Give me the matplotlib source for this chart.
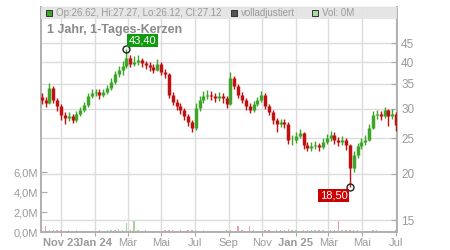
import numpy as np
import matplotlib
matplotlib.use("Agg")
import matplotlib.pyplot as plt
import matplotlib.dates as mdates
from datetime import date, timedelta

plt.rcParams["font.family"] = ["Liberation Sans", "DejaVu Sans"]

# ---- data (weekly candles) ----
start = date(2023, 9, 27)
closes = [31.6, 31.1, 34.1, 31.6, 30.5, 28.8, 28.3, 28.7, 28.0, 29.0, 29.8, 30.7, 32.5, 33.1, 33.3, 32.7,
          33.3, 34.1, 35.4, 37.2, 38.1, 39.1, 41.1, 39.6, 40.1, 40.6, 39.8, 39.3, 38.9, 38.1, 39.6, 37.7,
          37.2, 32.7, 31.3, 30.5, 29.8, 28.7, 27.6, 26.6, 30.1, 31.7, 32.5, 32.7, 32.5, 32.1, 32.5, 32.1,
          30.9, 36.3, 34.5, 32.7, 31.7, 30.5, 29.8, 30.9, 31.7, 32.7, 30.5, 29.4, 28.0, 27.3, 27.6, 27.3,
          24.7, 24.7, 25.3, 25.8, 23.9, 23.5, 23.8, 23.9, 23.6, 24.4, 25.0, 25.5, 24.7, 24.4, 24.7, 23.9,
          20.8, 22.5, 23.8, 24.4, 24.7, 26.6, 28.8, 29.0, 28.7, 29.8, 28.7, 29.0, 27.1]
opens = [32.3] + closes[:-1]
highs = [33.0, 32.3, 35.2, 34.5, 32.0, 30.9, 29.3, 29.4, 29.0, 29.6, 30.4, 31.3, 33.0, 33.8, 34.0, 33.8,
         34.0, 34.8, 36.2, 38.0, 39.2, 40.3, 43.4, 41.8, 41.5, 41.9, 41.2, 40.4, 40.0, 39.6, 40.8, 40.2,
         38.4, 37.5, 33.2, 31.8, 31.0, 30.2, 29.0, 28.0, 31.0, 32.4, 33.4, 33.6, 33.4, 33.0, 33.2, 33.0,
         32.5, 37.6, 36.8, 35.0, 33.2, 32.0, 31.0, 31.4, 32.3, 33.4, 33.0, 30.9, 29.8, 28.4, 28.2, 28.1,
         27.6, 25.4, 25.9, 26.4, 26.0, 24.4, 24.4, 24.5, 24.3, 25.0, 25.6, 26.1, 25.9, 25.2, 25.3, 25.0,
         24.1, 23.0, 24.3, 25.0, 25.5, 27.2, 29.5, 29.8, 29.6, 30.3, 30.0, 29.9, 29.4]
lows = [30.8, 30.3, 30.8, 31.0, 29.6, 28.0, 27.3, 27.8, 27.4, 27.6, 28.6, 29.4, 30.4, 32.0, 32.4, 31.8,
        32.2, 32.8, 33.6, 35.0, 36.5, 37.0, 38.6, 38.8, 39.0, 39.4, 38.9, 38.3, 38.0, 37.4, 37.8, 37.0,
        36.2, 32.0, 30.6, 29.8, 29.0, 28.0, 26.9, 26.0, 26.2, 29.6, 31.0, 31.8, 31.6, 31.2, 31.5, 31.0,
        30.2, 30.6, 34.0, 32.0, 31.0, 29.8, 29.2, 29.4, 30.5, 31.3, 30.0, 28.8, 27.3, 26.0, 26.8, 26.6,
        24.1, 24.0, 24.3, 25.0, 23.4, 23.0, 23.1, 23.3, 23.0, 23.3, 24.1, 24.6, 24.1, 23.8, 23.9, 23.2,
        18.5, 20.3, 22.1, 23.4, 24.0, 24.5, 26.4, 28.2, 28.0, 28.3, 27.0, 28.2, 26.1]
volumes = [0.3, 0.6, 0.25, 0.2, 0.2, 0.2, 0.15, 0.2, 0.15, 0.2, 0.15, 0.15, 0.1, 0.15, 0.1, 0.2,
           0.15, 0.2, 0.2, 0.25, 0.3, 0.2, 0.9, 0.2, 1.2, 0.2, 0.15, 0.2, 0.15, 0.1, 0.15, 0.1,
           0.2, 0.25, 0.2, 0.15, 0.2, 0.15, 0.2, 0.2, 0.2, 0.15, 0.2, 0.15, 0.1, 0.15, 0.1, 0.15,
           0.2, 0.2, 0.15, 0.6, 0.2, 0.15, 0.6, 0.2, 0.15, 0.15, 0.2, 0.2, 0.15, 0.2, 0.2, 0.2,
           0.3, 0.2, 0.2, 0.15, 0.2, 0.2, 0.2, 0.25, 0.2, 0.2, 0.15, 0.25, 0.2, 1.1, 0.2, 0.25,
           0.2, 0.2, 0.25, 0.15, 0.1, 0.15, 0.2, 0.2, 0.15, 0.15, 0.1, 0.15, 0.2]
price_ticks = [15, 20, 25, 30, 35, 40, 45]
vol_ticks = [0, 2, 4, 6]
vol_tick_labels = ["0,0M", "2,0M", "4,0M", "6,0M"]
month_ticks = [date(2023, 11, 1), date(2024, 1, 1), date(2024, 3, 1), date(2024, 5, 1), date(2024, 7, 1),
               date(2024, 9, 1), date(2024, 11, 1), date(2025, 1, 1), date(2025, 3, 1), date(2025, 5, 1),
               date(2025, 7, 1)]
month_labels = ["Nov 23", "Jan 24", "Mär", "Mai", "Jul", "Sep", "Nov", "Jan 25", "Mär", "Mai", "Jul"]
bold_labels = {"Nov 23", "Jan 24", "Jan 25"}
hi_label, lo_label = "43,40", "18,50"
header_ohlc = "Op:26.62, Hi:27.27, Lo:26.12, Cl:27.12"
title = "1 Jahr, 1-Tages-Kerzen"

dates = [start + timedelta(days=7 * i) for i in range(len(closes))]
x = mdates.date2num(dates)

GREEN = "#3fa52a"
RED = "#bf1111"
GRID = "#dcdcdc"
TXT = "#9a9a9a"

fig = plt.figure(figsize=(4.5, 2.5), dpi=100)
L, R, T, B = 41, 397, 7, 232
ax = fig.add_axes([L / 450, 1 - B / 250, (R - L) / 450, (B - T) / 250])
ax2 = ax.twinx()

x0 = mdates.date2num(date(2023, 9, 25)) + 0.7
x1 = mdates.date2num(date(2025, 7, 3)) + 0.7
ax.set_xlim(x0, x1)

# vertical grid
mt = mdates.date2num(month_ticks)
for m in mt:
    ax.axvline(m, color=GRID, lw=1, zorder=0)

# volume
up = [c >= o for o, c in zip(opens, closes)]
vcol = ["#9fd69a" if u else "#f29aa6" for u in up]
ax.bar(x, volumes, width=2.5, color=vcol, zorder=2)
ax.set_ylim(0, 22.5)
ax.set_yticks(vol_ticks)
ax.set_yticklabels(vol_tick_labels)
ax.tick_params(axis="y", direction="in", length=4, color="#aaaaaa", labelcolor=TXT, labelsize=8, pad=2)
ax.set_xticks(mt)
ax.set_xticklabels(month_labels)
for lab in ax.get_xticklabels():
    if lab.get_text() in bold_labels:
        lab.set_fontweight("bold")
ax.tick_params(axis="x", direction="out", length=3, color="#aaaaaa", labelcolor=TXT, labelsize=8, pad=1)

# price
ax2.set_yscale("log")
ax2.set_ylim(13.95, 56.4)
ax2.set_yticks(price_ticks)
ax2.set_yticklabels([str(t) for t in price_ticks])
ax2.yaxis.set_minor_locator(matplotlib.ticker.NullLocator())
ax2.tick_params(axis="y", direction="in", length=4, color="#aaaaaa", labelcolor=TXT, labelsize=8.5, pad=3)
for t in price_ticks:
    ax2.axhline(t, color=GRID, lw=1, zorder=0)

ccol = [GREEN if u else RED for u in up]
ax2.vlines(x, lows, highs, colors=ccol, lw=1, zorder=3)
ax2.vlines(x, opens, closes, colors=ccol, lw=2.5, zorder=3)

# extremes
ihi = int(np.argmax(highs))
ilo = int(np.argmin(lows))
ax2.plot([x[ihi]], [highs[ihi]], marker="o", ms=5, mfc="none", mec="#222222", mew=1, zorder=5)
ax2.plot([x[ilo]], [lows[ilo]], marker="o", ms=5, mfc="none", mec="#222222", mew=1, zorder=5)
ax2.annotate(hi_label, (x[ihi], highs[ihi]), xytext=(11.5, 6.5), textcoords="offset points",
             ha="center", va="center", color="white", fontsize=8,
             bbox=dict(boxstyle="square,pad=0.15", fc="#0f9a0f", ec="none"), zorder=6)
ax2.annotate(lo_label, (x[ilo], lows[ilo]), xytext=(-11.5, -6.3), textcoords="offset points",
             ha="center", va="center", color="white", fontsize=8,
             bbox=dict(boxstyle="square,pad=0.15", fc="#cc0000", ec="none"), zorder=6)

# spines
for s in ["left", "bottom", "right"]:
    for a in (ax, ax2):
        a.spines[s].set_color("#b0b0b0")
        a.spines[s].set_linewidth(1.2)
for a in (ax, ax2):
    a.spines["top"].set_color("#c8c8c8")

# header band
hb = 12 / (B - T)
ax2.add_patch(plt.Rectangle((0, 1 - hb), 1, hb, transform=ax2.transAxes, fc="#e3e3e3", ec="none",
                            alpha=0.9, zorder=7, clip_on=False))
hy = 1 - hb / 2
def sq(xa, col):
    ax2.plot([xa], [hy], marker="s", ms=4.5, mfc=col, mec="#333333", mew=0.7,
             transform=ax2.transAxes, clip_on=False, zorder=8)
sq(8 / 356, GREEN)
ax2.text(15 / 356, hy, header_ohlc, transform=ax2.transAxes, fontsize=7, color=TXT, va="center", zorder=8)
sq(193 / 356, "#555555")
ax2.text(200 / 356, hy, "volladjustiert", transform=ax2.transAxes, fontsize=7, color=TXT, va="center", zorder=8)
sq(274 / 356, "#a8dca0")
ax2.text(281 / 356, hy, "Vol: 0M", transform=ax2.transAxes, fontsize=7, color=TXT, va="center", zorder=8)
ax2.text(6 / 356, (B - 30) / (B - T), title, transform=ax2.transAxes, fontsize=9, fontweight="bold",
         color="#8a8a8a", va="center", zorder=8)

fig.savefig("out.png", dpi=100)
